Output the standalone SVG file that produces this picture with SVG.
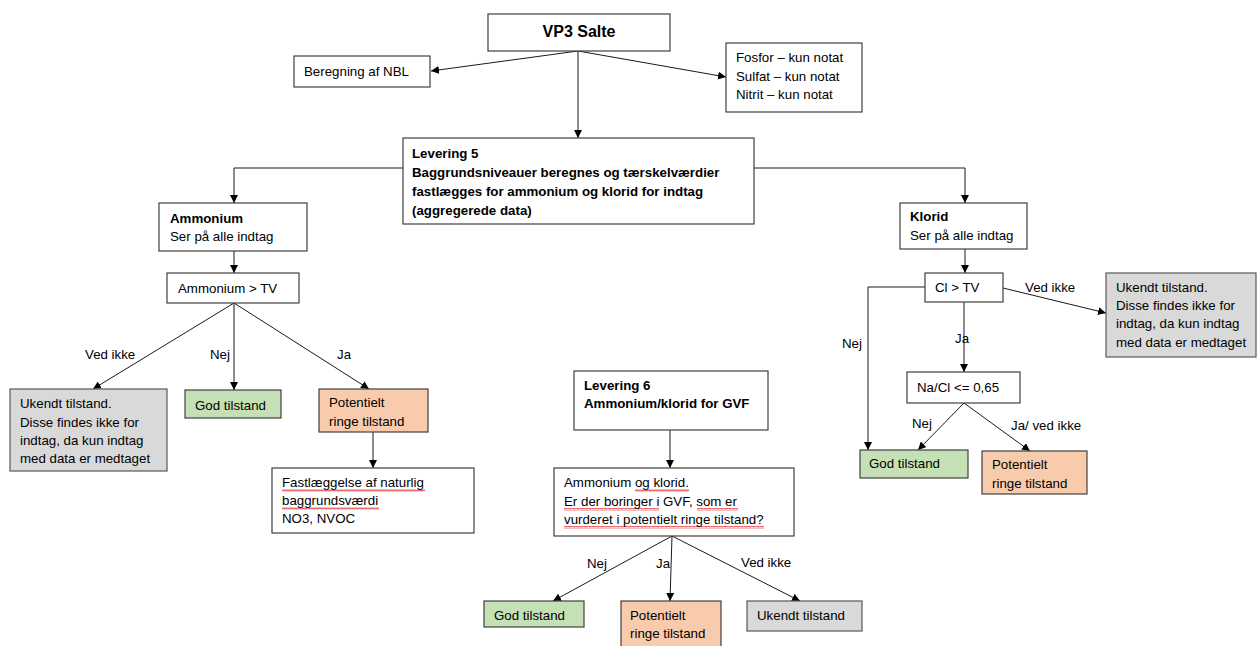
<svg xmlns="http://www.w3.org/2000/svg" width="1258" height="646" viewBox="0 0 1258 646">
<style>
  text { font-family: "Liberation Sans", Arial, sans-serif; font-size: 13.3px; fill: #000; }
  .b { font-weight: bold; }
  .title { font-size: 16px; font-weight: bold; }
  .box { fill: #fff; stroke: #404040; stroke-width: 1.2; }
  .grey { fill: #d9d9d9; stroke: #595959; stroke-width: 1.2; }
  .green { fill: #c5e0b4; stroke: #404040; stroke-width: 1.2; }
  .orange { fill: #f8cbad; stroke: #404040; stroke-width: 1.2; }
  .c { fill: none; stroke: #1a1a1a; stroke-width: 1; marker-end: url(#ah); }
  .sq { fill: url(#wave); }
</style>
<defs>
  <marker id="ah" viewBox="0 0 10 10" refX="10" refY="5" markerWidth="8" markerHeight="8" markerUnits="userSpaceOnUse" orient="auto">
    <path d="M0,0 L10,5 L0,10 z" fill="#000"/>
  </marker>
  <pattern id="wave" width="4" height="3" patternUnits="userSpaceOnUse">
    <path d="M0,2.5 L1,0.5 L2,2.5 L3,0.5 L4,2.5" fill="none" stroke="#e03030" stroke-width="0.7"/>
  </pattern>
</defs>
<rect width="1258" height="646" fill="#fff"/>

<g id="connectors">
  <path class="c" d="M578,51 L431,71"/>
  <path class="c" d="M578,51 L726,77"/>
  <path class="c" d="M578,51 L578,138"/>
  <path class="c" d="M403,168 L234,168 L234,203"/>
  <path class="c" d="M754,168 L965,168 L965,203"/>
  <path class="c" d="M234,251 L234,273"/>
  <path class="c" d="M234,303 L93,389"/>
  <path class="c" d="M234,303 L234,390"/>
  <path class="c" d="M234,303 L369,389"/>
  <path class="c" d="M373,432 L373,468"/>
  <path class="c" d="M965,249 L965,273"/>
  <path class="c" d="M925,287 L868,287 L868,450"/>
  <path class="c" d="M964,302 L964,372"/>
  <path class="c" d="M1003,288 L1106,313"/>
  <path class="c" d="M964,403 L918,450"/>
  <path class="c" d="M964,403 L1030,451"/>
  <path class="c" d="M670,430 L670,468"/>
  <path class="c" d="M672,536 L553,601"/>
  <path class="c" d="M672,536 L670,601"/>
  <path class="c" d="M672,536 L800,601"/>
  <text x="85" y="359">Ved ikke</text>
  <text x="210" y="359">Nej</text>
  <text x="337" y="359">Ja</text>
  <text x="1025" y="292">Ved ikke</text>
  <text x="955" y="343">Ja</text>
  <text x="842" y="348">Nej</text>
  <text x="912" y="428">Nej</text>
  <text x="1011" y="430">Ja/ ved ikke</text>
  <text x="587" y="568">Nej</text>
  <text x="656" y="568">Ja</text>
  <text x="741" y="567">Ved ikke</text>
</g>

<g id="vp3">
  <rect class="box" x="488" y="14" width="182" height="37"/>
  <text class="title" x="579" y="37" text-anchor="middle">VP3 Salte</text>
</g>
<g id="nbl">
  <rect class="box" x="294" y="56" width="136" height="31"/>
  <text x="304" y="76">Beregning af NBL</text>
</g>
<g id="notat">
  <rect class="box" x="726" y="43" width="136" height="69"/>
  <text x="736" y="62">Fosfor – kun notat</text>
  <text x="736" y="81">Sulfat – kun notat</text>
  <text x="736" y="99">Nitrit – kun notat</text>
</g>
<g id="levering5">
  <rect class="box" x="403" y="138" width="351" height="86"/>
  <text class="b" x="412" y="158">Levering 5</text>
  <text class="b" x="412" y="177">Baggrundsniveauer beregnes og tærskelværdier</text>
  <text class="b" x="412" y="196">fastlægges for ammonium og klorid for indtag</text>
  <text class="b" x="412" y="215">(aggregerede data)</text>
</g>

<g id="ammonium">
  <rect class="box" x="159" y="203" width="148" height="48"/>
  <text class="b" x="170" y="223">Ammonium</text>
  <text x="170" y="241">Ser på alle indtag</text>
</g>
<g id="ammonium-tv">
  <rect class="box" x="167" y="273" width="132" height="30"/>
  <text x="178" y="293">Ammonium &gt; TV</text>
</g>
<g id="ukendt-a">
  <rect class="grey" x="10" y="389" width="157" height="82"/>
  <text x="20" y="408">Ukendt tilstand.</text>
  <text x="20" y="427">Disse findes ikke for</text>
  <text x="20" y="445">indtag, da kun indtag</text>
  <text x="20" y="463">med data er medtaget</text>
</g>
<g id="god-a">
  <rect class="green" x="185" y="390" width="96" height="28"/>
  <text x="195" y="410">God tilstand</text>
</g>
<g id="pot-a">
  <rect class="orange" x="319" y="389" width="109" height="43"/>
  <text x="329" y="407">Potentielt</text>
  <text x="329" y="426">ringe tilstand</text>
</g>
<g id="fastlaeggelse">
  <rect class="box" x="272" y="468" width="202" height="65"/>
  <rect class="sq" x="282" y="489" width="143" height="3"/>
  <rect class="sq" x="282" y="507" width="97" height="3"/>
  <text x="282" y="487">Fastlæggelse af naturlig</text>
  <text x="282" y="505">baggrundsværdi</text>
  <text x="282" y="523">NO3, NVOC</text>
</g>

<g id="levering6">
  <rect class="box" x="574" y="371" width="194" height="59"/>
  <text class="b" x="584" y="390">Levering 6</text>
  <text class="b" x="584" y="408">Ammonium/klorid for GVF</text>
</g>
<g id="gvf">
  <rect class="box" x="554" y="468" width="240" height="68"/>
  <rect class="sq" x="635" y="489" width="54" height="3"/>
  <rect class="sq" x="564" y="508" width="95" height="3"/>
  <rect class="sq" x="697" y="508" width="41" height="3"/>
  <rect class="sq" x="564" y="526" width="200" height="3"/>
  <text x="564" y="487">Ammonium og klorid.</text>
  <text x="564" y="506">Er der boringer i GVF, som er</text>
  <text x="564" y="524">vurderet i potentielt ringe tilstand?</text>
</g>
<g id="god-g">
  <rect class="green" x="484" y="601" width="100" height="26"/>
  <text x="494" y="620">God tilstand</text>
</g>
<g id="pot-g">
  <rect class="orange" x="621" y="601" width="100" height="50"/>
  <text x="630" y="620">Potentielt</text>
  <text x="630" y="638">ringe tilstand</text>
</g>
<g id="ukendt-g">
  <rect class="grey" x="747" y="601" width="115" height="30"/>
  <text x="757" y="620">Ukendt tilstand</text>
</g>

<g id="klorid">
  <rect class="box" x="900" y="203" width="127" height="46"/>
  <text class="b" x="910" y="221">Klorid</text>
  <text x="910" y="240">Ser på alle indtag</text>
</g>
<g id="cl-tv">
  <rect class="box" x="925" y="273" width="78" height="29"/>
  <text x="935" y="292">Cl &gt; TV</text>
</g>
<g id="ukendt-k">
  <rect class="grey" x="1106" y="273" width="150" height="84"/>
  <text x="1116" y="292">Ukendt tilstand.</text>
  <text x="1116" y="310">Disse findes ikke for</text>
  <text x="1116" y="328">indtag, da kun indtag</text>
  <text x="1116" y="347">med data er medtaget</text>
</g>
<g id="nacl">
  <rect class="box" x="907" y="372" width="113" height="31"/>
  <text x="917" y="392">Na/Cl &lt;= 0,65</text>
</g>
<g id="god-k">
  <rect class="green" x="860" y="450" width="108" height="28"/>
  <text x="869" y="468">God tilstand</text>
</g>
<g id="pot-k">
  <rect class="orange" x="982" y="451" width="105" height="43"/>
  <text x="992" y="469">Potentielt</text>
  <text x="992" y="488">ringe tilstand</text>
</g>
</svg>
